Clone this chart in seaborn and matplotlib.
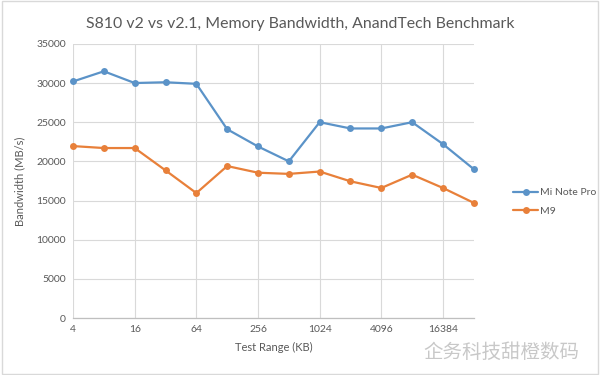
import matplotlib
matplotlib.use("Agg")
import matplotlib.pyplot as plt
import matplotlib.ticker as mticker
import seaborn as sns
import pandas as pd

test_range_kb = [4, 8, 16, 32, 64, 128, 256, 512, 1024, 2048, 4096, 8192, 16384, 32768]
mi_note_pro = [30200, 31500, 30000, 30100, 29900, 24100, 21900, 20000, 25000, 24200, 24200, 25000, 22200, 19000]
m9 = [21950, 21700, 21700, 18850, 15950, 19400, 18550, 18400, 18700, 17450, 16600, 18300, 16600, 14700]
series_names = ["Mi Note Pro", "M9"]
x_tick_labels = [4, 16, 64, 256, 1024, 4096, 16384]
y_ticks = [0, 5000, 10000, 15000, 20000, 25000, 30000, 35000]

df = pd.DataFrame({
    "Test Range (KB)": test_range_kb * 2,
    "Bandwidth (MB/s)": mi_note_pro + m9,
    "Series": [series_names[0]] * len(test_range_kb) + [series_names[1]] * len(test_range_kb),
})

sns.set_theme(style="white")
plt.rcParams["font.family"] = ["Lato", "DejaVu Sans"]

fig = plt.figure(figsize=(6, 3.75), dpi=100)
ax = fig.add_axes([0.1217, 0.152, 0.668, 0.731])

palette = {"Mi Note Pro": "#5b93c8", "M9": "#e8803a"}
sns.lineplot(data=df, x="Test Range (KB)", y="Bandwidth (MB/s)", hue="Series",
             palette=palette, marker="o", markersize=5, markeredgewidth=0,
             linewidth=1.6, ax=ax, legend=True)
for ln in ax.lines:
    ln.set_clip_on(False)

ax.set_xscale("log", base=2)
ax.set_xlim(4, 32768)
ax.set_ylim(0, 35000)
ax.xaxis.set_major_locator(mticker.FixedLocator(x_tick_labels))
ax.xaxis.set_minor_locator(mticker.NullLocator())
ax.xaxis.set_major_formatter(mticker.FixedFormatter([str(v) for v in x_tick_labels]))
ax.set_yticks(y_ticks)
ax.set_yticklabels([str(v) for v in y_ticks])

ax.grid(True, color="#d9d9d9", linewidth=0.8)
for s in ["top", "right", "left"]:
    ax.spines[s].set_visible(False)
ax.spines["bottom"].set_color("#bfbfbf")
ax.spines["bottom"].set_linewidth(0.9)
ax.tick_params(axis="both", length=0, labelsize=7.5, labelcolor="#595959", pad=5)

ax.set_xlabel("Test Range (KB)", fontsize=8, color="#595959", labelpad=6)
ax.set_ylabel("Bandwidth (MB/s)", fontsize=8, color="#595959", labelpad=8)

fig.suptitle("S810 v2 vs v2.1, Memory Bandwidth, AnandTech Benchmark",
             x=0.5, y=0.955, fontsize=11.4, color="#595959")

leg = ax.legend(loc="center left", bbox_to_anchor=(1.075, 0.423), frameon=False,
                fontsize=7.5, handlelength=2.4, handletextpad=0.2, labelspacing=0.9)
for t in leg.get_texts():
    t.set_color("#595959")

fig.text(0.705, 0.045, "企务科技甜橙数码", fontsize=14, color="#c8c8c8",
         family=["Noto Sans CJK SC", "DejaVu Sans"])

fig.patches.append(plt.Rectangle((0.003, 0.003), 0.994, 0.994, transform=fig.transFigure,
                                 fill=False, edgecolor="#d9d9d9", linewidth=1))

fig.savefig("out.png", dpi=100)
